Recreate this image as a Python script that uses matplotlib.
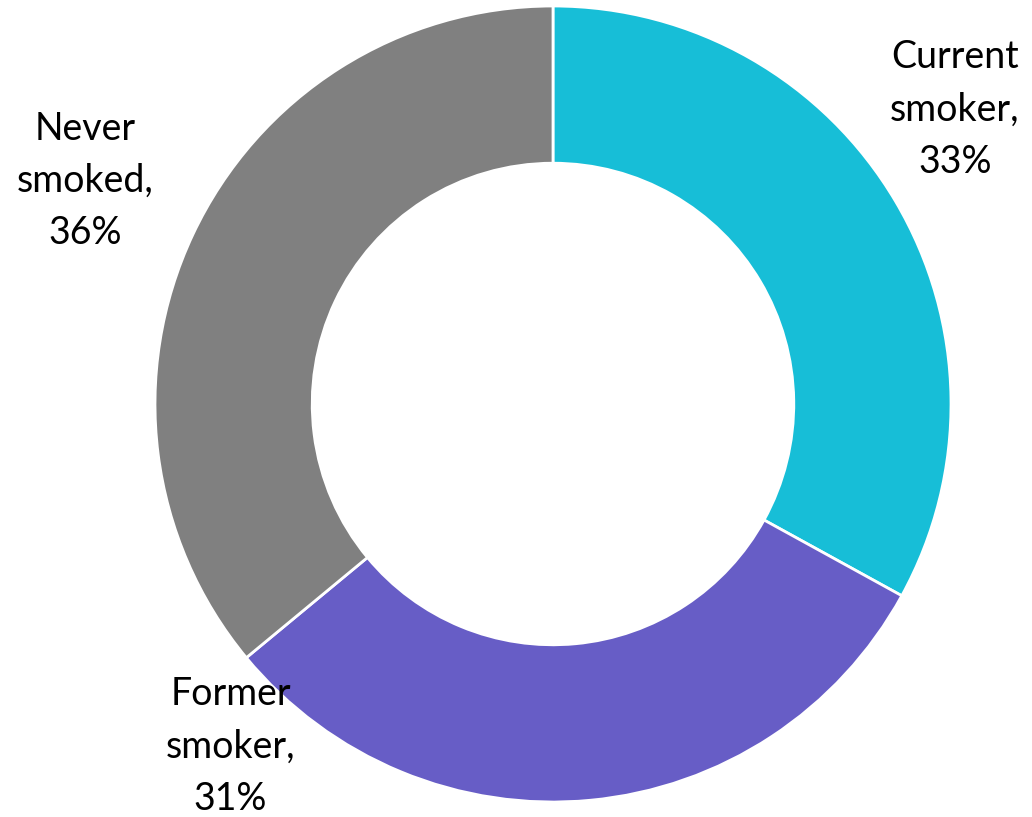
import matplotlib
matplotlib.use("Agg")
import matplotlib.pyplot as plt

# Smoking status shares (percent)
categories = ["Current\nsmoker", "Former\nsmoker", "Never\nsmoked"]
values = [33, 31, 36]
colors = ["#17BED7", "#675DC6", "#808080"]

# Label anchor positions (in units of the outer radius)
label_pos = [(1.01, 0.74), (-0.81, -0.86), (-1.176, 0.56)]

W, H = 1032, 817
cx, cy, R = 553, 404, 398

fig = plt.figure(figsize=(W / 100, H / 100), dpi=100)
ax = fig.add_axes([(cx - R) / W, (H - cy - R) / H, 2 * R / W, 2 * R / H])

ax.pie(values, colors=colors, startangle=90, counterclock=False, radius=1,
       wedgeprops=dict(width=0.395, edgecolor="white", linewidth=2))
ax.set_aspect("auto")
ax.set_xlim(-1, 1)
ax.set_ylim(-1, 1)
ax.axis("off")

for cat, v, (x, y) in zip(categories, values, label_pos):
    ax.text(x, y, f"{cat},\n{v}%", ha="center", va="center",
            fontsize=27, family=["Lato", "DejaVu Sans"], color="black",
            linespacing=1.56, clip_on=False)

fig.savefig("out.png", dpi=100)
